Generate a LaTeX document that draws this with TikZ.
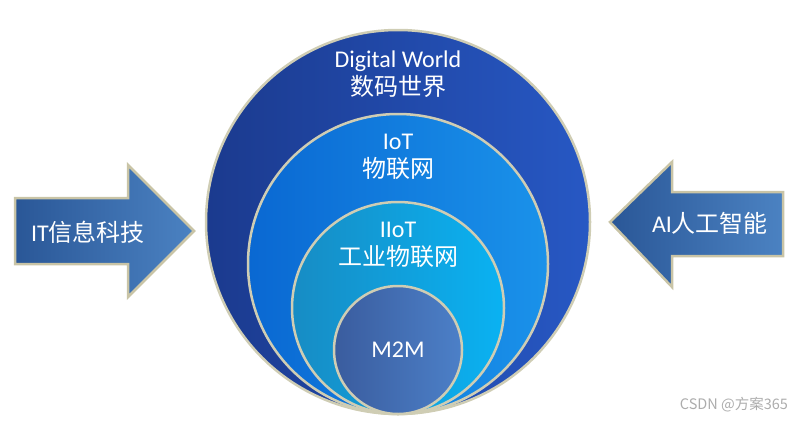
\documentclass[tikz,border=0pt]{standalone}
\usepackage{fontspec}
\setmainfont{Carlito}
\newfontfamily\cjk{Noto Sans CJK SC}
\usepackage{tikz}
\usetikzlibrary{positioning}
\usepackage{xcolor}

% 配色
\definecolor{ringEdge}{HTML}{CFCDB4}
\definecolor{arrowEdge}{HTML}{C9C4A6}
\definecolor{worldL}{HTML}{1B3A8E}
\definecolor{worldR}{HTML}{2758C4}
\definecolor{iotL}{HTML}{0A68D2}
\definecolor{iotR}{HTML}{1A92EA}
\definecolor{iiotL}{HTML}{178CC4}
\definecolor{iiotR}{HTML}{0AB2F2}
\definecolor{mtmL}{HTML}{3A5C9E}
\definecolor{mtmR}{HTML}{4C80C8}
\definecolor{arrL}{HTML}{2A5797}
\definecolor{arrR}{HTML}{4B82C2}

\begin{document}
\begin{tikzpicture}[
    x=1pt, y=-1pt,
    % 同心圆样式
    ring/.style={circle, draw=ringEdge, line width=2.5pt, inner sep=0pt},
    lbl/.style={text=white, align=center, font=\fontsize{24}{28}\selectfont},
    % 大箭头样式
    bigarrow/.style={draw=arrowEdge, line width=2.5pt, line join=miter, left color=arrL, right color=arrR},
    mark_txt/.style={text=gray!65, font=\cjk\fontsize{14.5}{16}\selectfont},
]

% ==================== 0. 画布 ====================
\useasboundingbox (0,0) rectangle (805,423);

% ==================== 1. 嵌套圆 (底部相切) ====================
\node[ring, minimum size=384pt, left color=worldL, right color=worldR] (world) at (398,222) {};
\node[ring, minimum size=300pt, left color=iotL, right color=iotR, anchor=south] (iot) at (world.south) {};
\node[ring, minimum size=212pt, left color=iiotL, right color=iiotR, anchor=south] (iiot) at (world.south) {};
\node[ring, minimum size=128pt, left color=mtmL, right color=mtmR, anchor=south] (mtm) at (world.south) {};

% ==================== 2. 圆内文字 ====================
\node[lbl] (world_txt) at (398,74)  {Digital World\\{\cjk 数码世界}};
\node[lbl] (iot_txt)   at (398,157) {IoT\\{\cjk 物联网}};
\node[lbl] (iiot_txt)  at (398,245) {IIoT\\{\cjk 工业物联网}};
\node[lbl] (mtm_txt)   at (mtm)     {M2M};

% ==================== 3. 左右大箭头 ====================
\draw[bigarrow] (15,198) -- (128,198) -- (128,165) -- (194,231) -- (128,297) -- (128,264) -- (15,264) -- cycle;
\node[lbl] (it_txt) at (88,232) {IT{\cjk 信息科技}};

\draw[bigarrow] (783,192) -- (672,192) -- (672,162) -- (610,222) -- (672,287) -- (672,256) -- (783,256) -- cycle;
\node[lbl] (ai_txt) at (710,223) {AI{\cjk 人工智能}};

% ==================== 4. 水印 ====================
\node[mark_txt] (wm) at (734,405) {CSDN @方案365};

\end{tikzpicture}
\end{document}
